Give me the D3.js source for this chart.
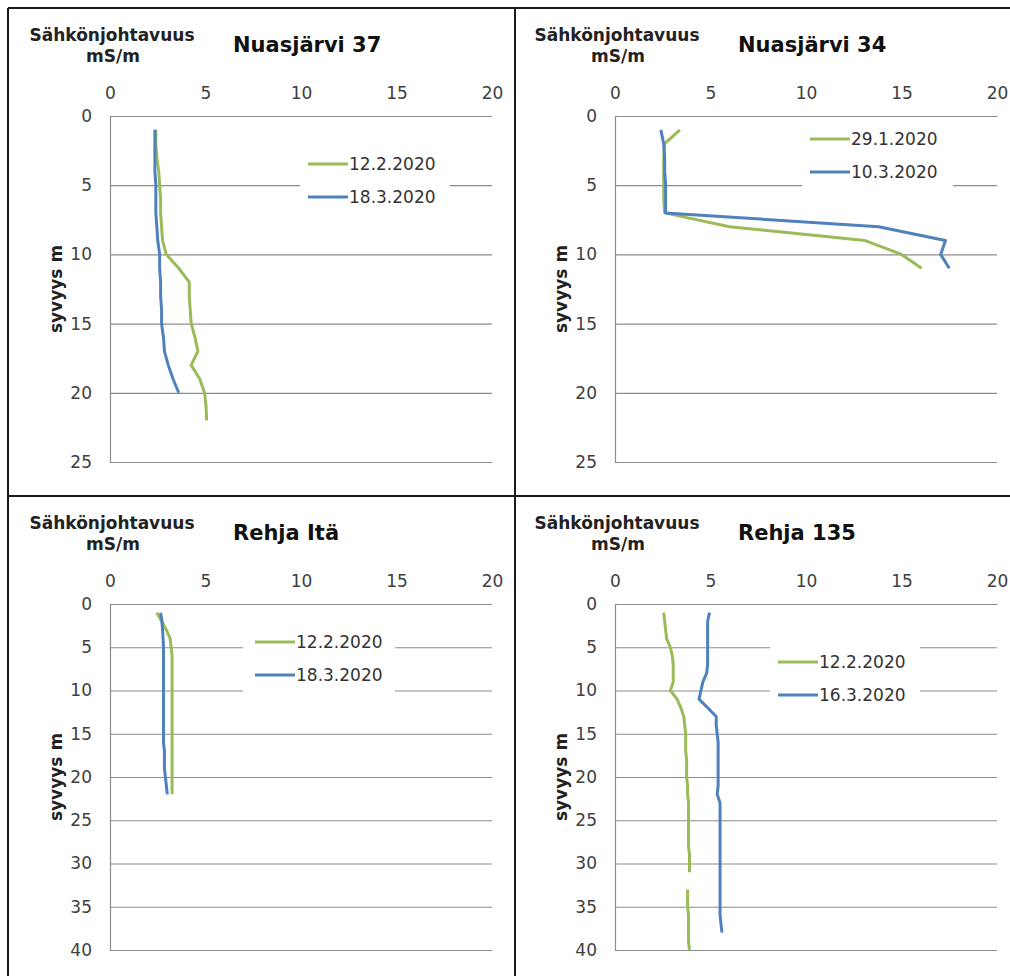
<!DOCTYPE html>
<html>
<head>
<meta charset="utf-8">
<script src="https://cdn.jsdelivr.net/npm/d3@7"></script>
<style>
  body { margin: 0; background: #fff; }
  svg { display: block; }
</style>
</head>
<body>
<div id="chart"></div>
<script>
// Tick labels
const xTicks = [0, 5, 10, 15, 20];
const yTicks25 = [0, 5, 10, 15, 20, 25];
const yTicks40 = [0, 5, 10, 15, 20, 25, 30, 35, 40];

// Nuasjärvi 37
const n37FebDepth = [1,2,3,4,5,6,7,8,9,10,11,12,13,14,15,16,17,18,19,20,21,22];
const n37FebValue = [2.4,2.4,2.45,2.55,2.6,2.65,2.65,2.7,2.75,2.95,3.6,4.15,4.15,4.2,4.25,4.45,4.6,4.25,4.7,4.95,5.03,5.06];
const n37MarDepth = [1,2,3,4,5,6,7,8,9,10,11,12,13,14,15,16,17,18,19,20];
const n37MarValue = [2.35,2.35,2.35,2.35,2.4,2.4,2.4,2.45,2.5,2.6,2.6,2.65,2.65,2.7,2.7,2.8,2.85,3.05,3.3,3.6];

// Nuasjärvi 34
const n34JanDepth = [1,2,3,4,5,6,7,8,9,10,11];
const n34JanValue = [3.4,2.6,2.55,2.55,2.55,2.55,2.6,6.0,13.1,15.0,16.05];
const n34MarDepth = [1,2,3,4,5,6,7,8,9,10,11];
const n34MarValue = [2.4,2.55,2.6,2.6,2.65,2.65,2.65,13.8,17.3,17.05,17.5];

// Rehja Itä
const riFebDepth = [1,2,3,4,5,6,7,8,9,10,11,12,13,14,15,16,17,18,19,20,21,22];
const riFebValue = [2.45,2.7,2.95,3.15,3.2,3.25,3.25,3.25,3.25,3.25,3.25,3.25,3.25,3.25,3.25,3.25,3.25,3.25,3.25,3.25,3.25,3.25];
const riMarDepth = [1,2,3,4,5,6,7,8,9,10,11,12,13,14,15,16,17,18,19,20,21,22];
const riMarValue = [2.65,2.72,2.75,2.78,2.8,2.8,2.8,2.8,2.8,2.8,2.8,2.8,2.8,2.8,2.8,2.8,2.85,2.85,2.85,2.9,2.95,3.0];

// Rehja 135 (12.2. has a missing value at 32 m)
const r135FebDepth = [1,2,3,4,5,6,7,8,9,10,11,12,13,14,15,16,17,18,19,20,21,22,23,24,25,26,27,28,29,30,31,32,33,34,35,36,37,38,39,40];
const r135FebValue = [2.55,2.6,2.65,2.7,2.9,3.0,3.05,3.05,3.05,2.9,3.25,3.45,3.6,3.65,3.7,3.7,3.7,3.75,3.75,3.75,3.8,3.8,3.85,3.85,3.85,3.85,3.85,3.85,3.9,3.9,3.9,null,3.8,3.8,3.8,3.85,3.85,3.85,3.85,3.9];
const r135MarDepth = [1,2,3,4,5,6,7,8,9,10,11,12,13,14,15,16,17,18,19,20,21,22,23,24,25,26,27,28,29,30,31,32,33,34,35,36,37,38];
const r135MarValue = [4.95,4.85,4.85,4.85,4.85,4.85,4.85,4.8,4.6,4.5,4.4,4.85,5.3,5.3,5.35,5.4,5.4,5.4,5.4,5.4,5.4,5.35,5.5,5.5,5.5,5.5,5.5,5.5,5.5,5.5,5.5,5.5,5.5,5.5,5.5,5.5,5.55,5.6];

const GREEN = "#9bbb59";
const BLUE = "#4f81bd";
const FONT = "'DejaVu Sans', Verdana, sans-serif";

const panels = [
    { title: "Nuasjärvi 37", ox: 0, oy: 0, yTicks: yTicks25,
      series: [
        { name: "12.2.2020", color: GREEN, depth: n37FebDepth, value: n37FebValue },
        { name: "18.3.2020", color: BLUE, depth: n37MarDepth, value: n37MarValue }
      ],
      legend: { x: 308, y: 164, box: [300, 148, 150, 64] } },
    { title: "Nuasjärvi 34", ox: 505, oy: 0, yTicks: yTicks25,
      series: [
        { name: "29.1.2020", color: GREEN, depth: n34JanDepth, value: n34JanValue },
        { name: "10.3.2020", color: BLUE, depth: n34MarDepth, value: n34MarValue }
      ],
      legend: { x: 305, y: 139, box: [297, 124, 151, 66] } },
    { title: "Rehja Itä", ox: 0, oy: 488, yTicks: yTicks40,
      series: [
        { name: "12.2.2020", color: GREEN, depth: riFebDepth, value: riFebValue },
        { name: "18.3.2020", color: BLUE, depth: riMarDepth, value: riMarValue }
      ],
      legend: { x: 255, y: 154, box: [243, 140, 152, 68] } },
    { title: "Rehja 135", ox: 505, oy: 488, yTicks: yTicks40,
      series: [
        { name: "12.2.2020", color: GREEN, depth: r135FebDepth, value: r135FebValue },
        { name: "16.3.2020", color: BLUE, depth: r135MarDepth, value: r135MarValue }
      ],
      legend: { x: 273, y: 174, box: [265, 154, 150, 68] } }
];

const svg = d3.select("#chart")
    .append("svg")
    .attr("width", 1010)
    .attr("height", 976)
    .style("font-family", FONT);

panels.forEach(p => {
    const g = svg.append("g").attr("transform", `translate(${p.ox},${p.oy})`);

    const x = d3.scaleLinear().domain([0, 20]).range([110, 492]);
    const y = d3.scaleLinear().domain([0, p.yTicks[p.yTicks.length - 1]]).range([116, 462]);

    // Y axis with horizontal gridlines
    const yAxis = g.append("g")
        .attr("transform", "translate(110,0)")
        .call(d3.axisLeft(y).tickValues(p.yTicks).tickSizeInner(-(492 - 110)).tickSizeOuter(0).tickPadding(18));
    yAxis.selectAll("line").attr("stroke", "#8c8c8c").attr("stroke-width", 1.2);
    yAxis.select(".domain").attr("stroke", "#8c8c8c").attr("stroke-width", 1.2);
    yAxis.selectAll("text")
        .style("font-size", "17px")
        .style("font-family", FONT)
        .attr("fill", "#404040");

    // X axis on top, labels only
    const xAxis = g.append("g")
        .attr("transform", "translate(0,116)")
        .call(d3.axisTop(x).tickValues(xTicks).tickSize(0).tickPadding(17));
    xAxis.select(".domain").remove();
    xAxis.selectAll("text")
        .style("font-size", "17px")
        .style("font-family", FONT)
        .attr("fill", "#404040");

    // Legend background
    const lg = p.legend;
    g.append("rect")
        .attr("x", lg.box[0]).attr("y", lg.box[1])
        .attr("width", lg.box[2]).attr("height", lg.box[3])
        .attr("fill", "#fff");

    // Lines
    const line = d3.line()
        .defined(d => d.v !== null)
        .x(d => x(d.v))
        .y(d => y(d.d));

    p.series.forEach(s => {
        const pts = s.depth.map((d, i) => ({ d: d, v: s.value[i] }));
        g.append("path")
            .datum(pts)
            .attr("d", line)
            .attr("fill", "none")
            .attr("stroke", s.color)
            .attr("stroke-width", 3)
            .attr("stroke-linejoin", "round");
    });

    // Legend entries
    p.series.forEach((s, i) => {
        const ly = lg.y + i * 33;
        g.append("line")
            .attr("x1", lg.x).attr("x2", lg.x + 40)
            .attr("y1", ly).attr("y2", ly)
            .attr("stroke", s.color)
            .attr("stroke-width", 3);
        g.append("text")
            .attr("x", lg.x + 41)
            .attr("y", ly)
            .attr("dy", "0.36em")
            .style("font-size", "17px")
            .attr("fill", "#333")
            .text(s.name);
    });

    // Titles
    g.append("text")
        .attr("x", 112).attr("y", 41)
        .attr("text-anchor", "middle")
        .style("font-size", "17px").style("font-weight", "bold")
        .attr("fill", "#222")
        .text("Sähkönjohtavuus");
    g.append("text")
        .attr("x", 113).attr("y", 62)
        .attr("text-anchor", "middle")
        .style("font-size", "17px").style("font-weight", "bold")
        .attr("fill", "#222")
        .text("mS/m");
    g.append("text")
        .attr("x", 233).attr("y", 52)
        .style("font-size", "21px").style("font-weight", "bold")
        .attr("fill", "#111")
        .text(p.title);
    g.append("text")
        .attr("transform", `translate(62,${(116 + 462) / 2}) rotate(-90)`)
        .attr("text-anchor", "middle")
        .style("font-size", "17px").style("font-weight", "bold")
        .attr("fill", "#222")
        .text("syvyys m");
});

// Table borders
const borders = [
    [8, 8, 1010, 8],
    [8, 8, 8, 976],
    [515, 8, 515, 976],
    [8, 496, 1010, 496]
];
svg.selectAll(".border")
    .data(borders)
    .enter().append("line")
    .attr("class", "border")
    .attr("x1", d => d[0]).attr("y1", d => d[1])
    .attr("x2", d => d[2]).attr("y2", d => d[3])
    .attr("stroke", "#1a1a1a")
    .attr("stroke-width", 2);
</script>
</body>
</html>
